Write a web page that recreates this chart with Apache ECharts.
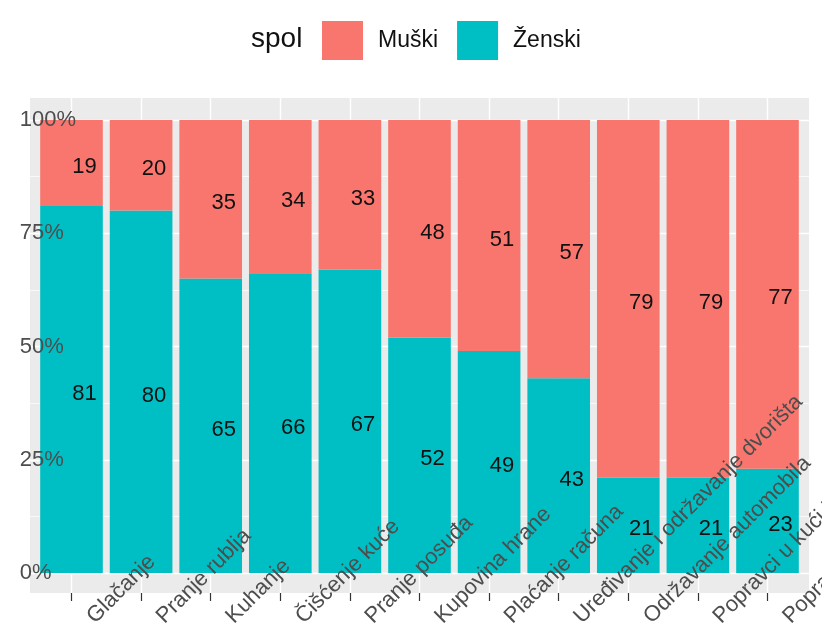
<!DOCTYPE html>
<html>
<head>
<meta charset="utf-8">
<script src="https://cdn.jsdelivr.net/npm/echarts@6/dist/echarts.min.js"></script>
<style>
  html, body { margin: 0; padding: 0; background: #fff; }
  #chart { width: 822px; height: 624px; }
</style>
</head>
<body>
<div id="chart"></div>
<script>
  // Share of each household chore done by men / women (percent)
  const categories = [
    "Glačanje", "Pranje rublja", "Kuhanje", "Čišćenje kuće", "Pranje posuđa",
    "Kupovina hrane", "Plaćanje računa", "Uređivanje i održavanje dvorišta",
    "Održavanje automobila", "Popravci u kući i stanu", "Popravci kućanskih aparata"
  ];
  const muski = [19, 20, 35, 34, 33, 48, 51, 57, 79, 79, 77];
  const zenski = [81, 80, 65, 66, 67, 52, 49, 43, 21, 21, 23];
  const yTicks = [0, 25, 50, 75, 100];

  const RED = "#F8766D";
  const CYAN = "#00BFC4";
  const PANEL = "#EBEBEB";
  const AXIS_TXT = "#4D4D4D";
  const FONT = "Liberation Sans, Arial, sans-serif";

  const inst = echarts.init(document.getElementById("chart"), null, { renderer: "canvas" });

  const valLabel = {
    show: true, position: "inside", offset: [13, 4],
    color: "#111", fontSize: 22, fontFamily: FONT,
  };

  const g = (o) => Object.assign({ outerBoundsMode: "none", containLabel: false }, o);

  inst.setOption({
    animation: false,
    backgroundColor: "#fff",
    title: {
      text: "spol", left: 246, top: 20,
      textStyle: { color: "#111", fontSize: 28, fontWeight: "normal", fontFamily: FONT },
    },
    legend: {
      left: 317, top: 16, icon: "rect", itemWidth: 41, itemHeight: 39, itemGap: 19,
      data: ["Muški", "Ženski"],
      textStyle: { color: "#111", fontSize: 23, fontFamily: FONT, padding: [0, 0, 0, 10] },
    },
    grid: [
      // panel background
      g({ left: 30, top: 98, width: 779, height: 495, show: true, backgroundColor: PANEL, borderWidth: 0, z: -2 }),
      // horizontal grid lines, full panel width
      g({ left: 30, top: 120, width: 779, height: 453 }),
      // vertical grid lines + ticks at category centres
      g({ left: 71.5, top: 98, width: 696, height: 495 }),
      // bars
      g({ left: 36.7, top: 120, width: 765.6, height: 453 }),
    ],
    xAxis: [
      { gridIndex: 0, type: "value", show: false, min: 0, max: 1 },
      { gridIndex: 1, type: "value", show: false, min: 0, max: 1 },
      {
        gridIndex: 2, type: "value", min: 0, max: 10, interval: 1, z: 1,
        axisLine: { show: false }, axisLabel: { show: false },
        axisTick: { show: true, length: 8, lineStyle: { color: "#333", width: 1.2 } },
        splitLine: { show: true, lineStyle: { color: "#fff", width: 1.4 } },
      },
      {
        gridIndex: 3, type: "category", data: categories, z: 10,
        axisLine: { show: false }, axisTick: { show: false },
        axisLabel: {
          interval: 0, rotate: 45, align: "left", verticalAlign: "middle", margin: 66,
          padding: [0, 0, 0, 27],
          color: AXIS_TXT, fontSize: 22, fontFamily: FONT,
        },
        splitLine: { show: false },
      },
    ],
    yAxis: [
      { gridIndex: 0, type: "value", show: false, min: 0, max: 1 },
      {
        gridIndex: 1, type: "value", min: 0, max: 100, interval: 25, z: 1,
        axisLine: { show: false }, axisTick: { show: false }, axisLabel: { show: false },
        splitLine: { show: true, lineStyle: { color: "#fff", width: 1.4 } },
        minorTick: { show: false, splitNumber: 2 },
        minorSplitLine: { show: true, lineStyle: { color: "#fff", width: 0.7 } },
      },
      { gridIndex: 2, type: "value", show: false, min: 0, max: 1 },
      {
        gridIndex: 3, type: "value", min: 0, max: 100, interval: 25, z: 10,
        axisLine: { show: false }, axisTick: { show: false },
        splitLine: { show: false },
        axisLabel: {
          align: "left", margin: 17, color: AXIS_TXT, fontSize: 22, fontFamily: FONT,
          formatter: (v) => (yTicks.indexOf(v) >= 0 ? v + "%" : ""),
        },
      },
    ],
    series: [
      {
        name: "Ženski", type: "bar", stack: "s", xAxisIndex: 3, yAxisIndex: 3,
        data: zenski, barCategoryGap: "10%",
        itemStyle: { color: CYAN }, label: valLabel,
      },
      {
        name: "Muški", type: "bar", stack: "s", xAxisIndex: 3, yAxisIndex: 3,
        data: muski, barCategoryGap: "10%",
        itemStyle: { color: RED }, label: valLabel,
      },
    ],
  });
</script>
</body>
</html>
